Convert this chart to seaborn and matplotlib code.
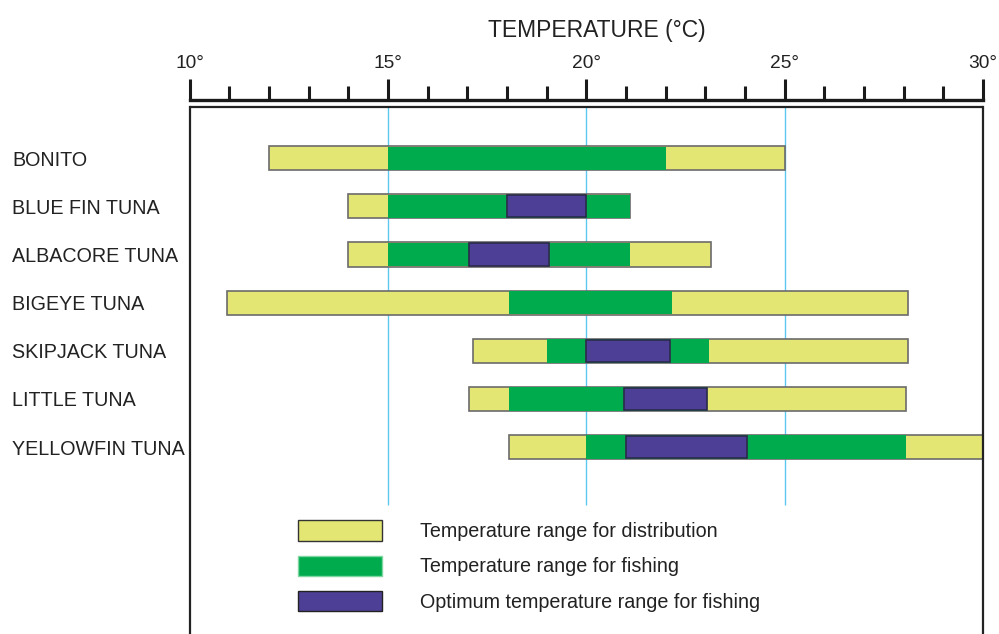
import matplotlib
matplotlib.use("Agg")
import matplotlib.pyplot as plt
import matplotlib.patches as mpatches
import seaborn as sns
import numpy as np

species = ["BONITO", "BLUE FIN TUNA", "ALBACORE TUNA", "BIGEYE TUNA",
           "SKIPJACK TUNA", "LITTLE TUNA", "YELLOWFIN TUNA"]
dist_lo = [12.0, 14.0, 14.0, 10.95, 17.15, 17.05, 18.05]
dist_hi = [25.0, 21.1, 23.15, 28.1, 28.1, 28.05, 30.0]
fish_lo = [15.0, 15.0, 15.0, 18.05, 19.0, 18.05, 20.0]
fish_hi = [22.0, 21.1, 21.1, 22.15, 23.1, 23.05, 28.05]
opt_lo = [np.nan, 18.0, 17.05, np.nan, 20.0, 20.95, 21.0]
opt_hi = [np.nan, 20.0, 19.05, np.nan, 22.1, 23.05, 24.05]
legend_labels = ["Temperature range for distribution",
                 "Temperature range for fishing",
                 "Optimum temperature range for fishing"]
major_ticks = [10, 15, 20, 25, 30]
tick_labels = ["10°", "15°", "20°", "25°", "30°"]

sns.set_theme(style="white")
plt.rcParams["font.family"] = ["Liberation Sans", "DejaVu Sans"]

YELLOW = "#E3E673"
GREEN = "#00AB4E"
PURPLE = "#4E3F96"
GRID = "#5CC8F0"
TXT = "#222222"

fig = plt.figure(figsize=(9.99, 6.34), dpi=100)
ax = fig.add_axes([0.190, 0.0, 0.794, 0.831])

ypos = np.arange(len(species))
h = 0.5
d_lo = np.array(dist_lo); d_hi = np.array(dist_hi)
f_lo = np.array(fish_lo); f_hi = np.array(fish_hi)
o_lo = np.array(opt_lo); o_hi = np.array(opt_hi)

ax.vlines([15, 20, 25], -1.06, 7.2, color=GRID, lw=1.0, zorder=1)
ax.barh(ypos, d_hi - d_lo, left=d_lo, height=h, color=YELLOW,
        edgecolor="#6b6b6b", linewidth=1.2, zorder=2)
ax.barh(ypos, f_hi - f_lo, left=f_lo, height=h * 0.97, color=GREEN,
        edgecolor="none", linewidth=0, zorder=3)
m = ~np.isnan(o_lo)
ax.barh(ypos[m], (o_hi - o_lo)[m], left=o_lo[m], height=h * 0.92,
        color=PURPLE, edgecolor="#2a2a4a", linewidth=1.2, zorder=4)

ax.set_xlim(10, 30)
ax.set_ylim(9.88, -1.06)

# y labels
ax.set_yticks(ypos)
ax.set_yticklabels(species, color=TXT, ha="left")
ax.tick_params(axis="y", length=0, pad=128, labelsize=14.2)

# top axis
ax.xaxis.set_ticks_position("top")
ax.set_xticks(major_ticks)
ax.set_xticks(np.arange(10, 31, 1), minor=True)
ax.set_xticklabels(tick_labels)
ax.tick_params(axis="x", which="major", direction="out", length=15,
               width=2.2, color="#1a1a1a", pad=5, labelsize=13.8,
               labelcolor=TXT)
ax.tick_params(axis="x", which="minor", direction="out", length=10,
               width=2.2, color="#1a1a1a", labelsize=0)
fig.text(597 / 999, 1 - 37 / 634, "TEMPERATURE (°C)", fontsize=16.5,
         color=TXT, ha="center", va="baseline")

for s in ["left", "right"]:
    ax.spines[s].set_color(TXT)
    ax.spines[s].set_linewidth(1.6)
ax.spines["bottom"].set_visible(False)
ax.spines["top"].set_position(("outward", 5))
ax.spines["top"].set_linewidth(2.4)
ax.spines["top"].set_color("#1a1a1a")
ax.axhline(-1.06, color=TXT, lw=1.6, clip_on=False, zorder=5)

handles = [mpatches.Patch(facecolor=YELLOW, edgecolor="#333333", lw=1.0),
           mpatches.Patch(facecolor=GREEN, edgecolor="#7fd6a0", lw=1.0),
           mpatches.Patch(facecolor=PURPLE, edgecolor="#222222", lw=1.0)]
ax.legend(handles, legend_labels, loc="upper left",
          bbox_to_anchor=(0.136, 0.2163), frameon=False, fontsize=14.2,
          handlelength=4.26, handleheight=1.22, handletextpad=1.93,
          labelspacing=0.74, borderpad=0, borderaxespad=0,
          labelcolor=TXT)

fig.savefig("out.png", dpi=100)
